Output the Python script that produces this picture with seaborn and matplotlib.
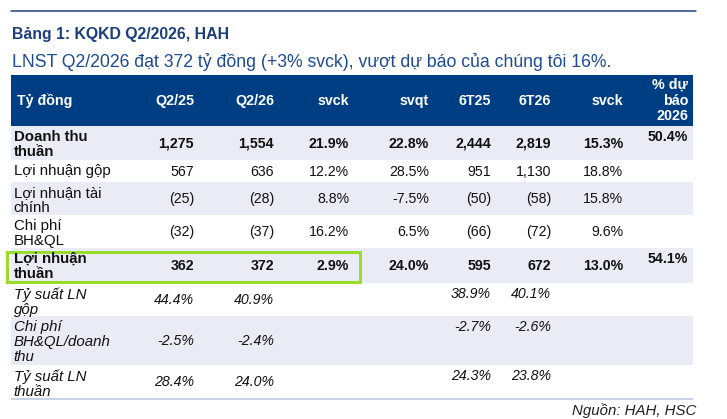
import numpy as np
import matplotlib
matplotlib.use("Agg")
import matplotlib.pyplot as plt
from matplotlib.patches import Rectangle
import seaborn as sns

# --- table data (Tỷ đồng) ---
row_labels = ["Doanh thu\nthuần", "Lợi nhuận gộp", "Lợi nhuận tài\nchính", "Chi phí\nBH&QL",
              "Lợi nhuận\nthuần", "Tỷ suất LN\ngộp", "Chi phí\nBH&QL/doanh\nthu", "Tỷ suất LN\nthuần"]
col_headers = ["Q2/25", "Q2/26", "svck", "svqt", "6T25", "6T26", "svck", "% dự\nbáo\n2026"]

q2_25 = [1275, 567, -25, -32, 362]
q2_26 = [1554, 636, -28, -37, 372]
svck_q = [21.9, 12.2, 8.8, 16.2, 2.9]
svqt = [22.8, 28.5, -7.5, 6.5, 24.0]
h1_25 = [2444, 951, -50, -66, 595]
h1_26 = [2819, 1130, -58, -72, 672]
svck_h = [15.3, 18.8, 15.8, 9.6, 13.0]
pct_forecast = [50.4, None, None, None, 54.1]

# ratio rows (italic)
ratio_q2_25 = [44.4, -2.5, 28.4]
ratio_q2_26 = [40.9, -2.4, 24.0]
ratio_h1_25 = [38.9, -2.7, 24.3]
ratio_h1_26 = [40.1, -2.6, 23.8]

title = "Bảng 1: KQKD Q2/2026, HAH"
subtitle = "LNST Q2/2026 đạt 372 tỷ đồng (+3% svck), vượt dự báo của chúng tôi 16%."
source = "Nguồn: HAH, HSC"


def fmt_num(v):
    if v is None:
        return ""
    return f"({-v:,})" if v < 0 else f"{v:,}"


def fmt_pct(v):
    if v is None:
        return ""
    return f"{v:.1f}%"


# build cell text per row
cells = []
for i in range(len(q2_25)):
    cells.append([fmt_num(q2_25[i]), fmt_num(q2_26[i]), fmt_pct(svck_q[i]), fmt_pct(svqt[i]),
                  fmt_num(h1_25[i]), fmt_num(h1_26[i]), fmt_pct(svck_h[i]), fmt_pct(pct_forecast[i])])
for i in range(len(ratio_q2_25)):
    cells.append([fmt_pct(ratio_q2_25[i]), fmt_pct(ratio_q2_26[i]), "", "",
                  fmt_pct(ratio_h1_25[i]), fmt_pct(ratio_h1_26[i]), "", ""])

# layout (pixels)
W, H = 727, 419
left, right = 11, 693
header_top, header_bot = 75, 126
row_heights = [34, 22, 33, 33, 35, 33, 49, 33]
col_right = [194, 274, 349, 429, 491, 551, 623, 688]
label_x = 13.5
bold_rows = [0, 4]
italic_rows = [5, 6, 7]
top_aligned_cols = {7}  # last column always sits on first line

navy = "#003E84"
shade = "#E9ECF5"
text_col = "#111111"

sns.set_theme(style="white")
plt.rcParams["font.family"] = ["Liberation Sans", "DejaVu Sans"]

fig = plt.figure(figsize=(W / 100, H / 100), dpi=100)
ax = fig.add_axes([0, 0, 1, 1])
ax.set_xlim(0, W)
ax.set_ylim(H, 0)
ax.axis("off")

px = 0.72  # points per pixel
fs_lab = 10.8
fs_num = 10.2
fs_head = 10.3

# top rule + titles
ax.plot([left, 696], [11.5, 11.5], color="#1B3F78", lw=1.5 * px)
ax.text(12, 39, title, fontsize=11.4, fontweight="bold", color="#1B3F7A", va="baseline")
ax.text(12, 67, subtitle, fontsize=12.7, color="#1D4B92", va="baseline")

# header band
ax.add_patch(Rectangle((left, header_top), right - left, header_bot - header_top, color=navy, lw=0))
hmid = (header_top + header_bot) / 2
ax.text(17, hmid, "Tỷ đồng", color="white", fontweight="bold", fontsize=fs_head, va="center")
for x, h in zip(col_right, col_headers):
    ax.text(x, hmid, h, color="white", fontweight="bold", fontsize=fs_head, va="center", ha="right",
            multialignment="right", linespacing=1.15)

# body rows
tops = header_bot + np.concatenate([[0], np.cumsum(row_heights)[:-1]])
for r, (top, h) in enumerate(zip(tops, row_heights)):
    if r % 2 == 0:
        ax.add_patch(Rectangle((left, top), right - left, h, color=shade, lw=0))
    weight = "bold" if r in bold_rows else "normal"
    style = "italic" if r in italic_rows else "normal"
    ax.text(label_x, top + 4, row_labels[r], fontsize=fs_lab, fontweight=weight, fontstyle=style,
            va="top", color=text_col, linespacing=1.1)
    for c, (x, val) in enumerate(zip(col_right, cells[r])):
        if not val:
            continue
        on_top = c in top_aligned_cols or (r in italic_rows and c in (4, 5))
        if on_top:
            ax.text(x, top + 4, val, fontsize=fs_num, fontweight=weight, fontstyle=style,
                    va="top", ha="right", color=text_col)
        else:
            ax.text(x, top + h / 2 + 0.5, val, fontsize=fs_num, fontweight=weight, fontstyle=style,
                    va="center", ha="right", color=text_col)

# highlight box around "Lợi nhuận thuần" Q2 figures
hr = 4
ax.add_patch(Rectangle((6.5, tops[hr] + 3.5), 353, row_heights[hr] - 5, fill=False,
                       edgecolor="#9ADD28", lw=3 * px))

# bottom rule + source
bottom = tops[-1] + row_heights[-1]
ax.plot([left, right], [bottom + 1, bottom + 1], color="#B5C6DE", lw=1.5 * px)
ax.text(696, 411, source, fontsize=10.8, fontstyle="italic", ha="right", va="center", color="#222222")

fig.savefig("out.png", dpi=100)
